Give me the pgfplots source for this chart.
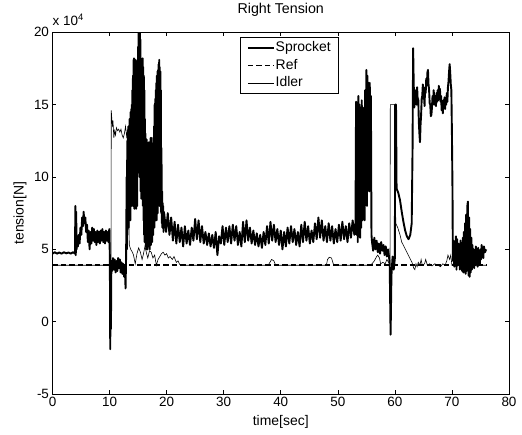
\documentclass[border=0pt]{standalone}
\usepackage{pgfplots}
\pgfplotsset{compat=1.18}
\usepackage{fontspec}
\setmainfont{Liberation Sans}
\begin{document}
\begin{tikzpicture}
\useasboundingbox (-52.5bp,-40.3bp) rectangle (469.5bp,394bp);
\begin{axis}[
  scale only axis, width=456.5bp, height=361.7bp,
  xmin=0, xmax=80, ymin=-5, ymax=20,
  xtick={0,10,...,80}, ytick={-5,0,...,20},
  tick align=inside, major tick length=4bp,
  axis line style={line width=0.6bp},
  every tick/.style={black,line width=0.6bp},
  /pgf/number format/assume math mode=true,
  ticklabel style={font=\fontsize{13.5}{15}\selectfont},
  xlabel={time[sec]}, ylabel={tension[N]},
  label style={font=\fontsize{14}{16}\selectfont},
  xlabel style={at={(axis description cs:0.5,-0.0774)}, anchor=center},
  ylabel style={at={(axis description cs:-0.0712,0.5)}, anchor=center, rotate=0},
  title={Right Tension},
  title style={font=\fontsize{14.3}{16}\selectfont, at={(axis description cs:0.5,1.047)}, anchor=center},
  legend style={at={(axis description cs:0.411,0.986)}, anchor=north west,
    draw=black, fill=white, inner xsep=6.5bp, inner ysep=3bp,
    font=\fontsize{14}{16}\selectfont,
    nodes={inner sep=1bp, text height=10bp, text depth=3bp},
    row sep=2.5bp,
    /tikz/every even column/.append style={column sep=2bp}},
  legend cell align=left,
  legend image code/.code={\draw[#1] (0bp,0bp) -- (26bp,0bp);},
  clip mode=individual,
]
\addplot[black, line width=1.9bp, line join=round] table {
t v
0.0 4.70
0.4 4.80
0.8 4.70
1.2 4.78
1.6 4.70
2.0 4.80
2.4 4.72
2.8 4.78
3.2 4.70
3.6 4.80
3.95 4.70
4.00 8.00
4.08 4.60
4.15 7.60
4.22 5.00
4.30 5.60
4.45 5.20
4.60 6.00
4.75 5.40
4.90 6.50
5.05 6.00
5.20 7.20
5.35 6.60
5.45 7.60
5.60 6.80
5.75 7.20
5.90 6.20
6.05 6.70
6.20 5.50
6.35 6.30
6.50 5.00
6.65 6.20
6.80 5.40
6.95 6.50
7.10 5.60
7.25 6.40
7.40 5.50
7.55 6.20
7.70 5.30
7.85 6.30
8.00 5.50
8.15 6.20
8.30 5.40
8.45 6.30
8.60 5.60
8.75 6.40
8.90 5.50
9.05 6.20
9.20 5.40
9.35 6.30
9.50 5.60
9.65 6.20
9.80 5.50
9.95 6.40
10.05 4.50
10.12 -1.90
10.18 3.60
10.24 -0.50
10.32 4.20
10.45 3.50
10.60 4.40
10.75 3.60
10.90 4.30
11.05 3.40
11.20 4.20
11.35 3.50
11.50 4.40
11.65 3.70
11.80 4.30
11.95 3.40
12.10 4.10
12.25 3.30
12.40 4.00
12.55 3.10
12.70 3.90
12.80 2.30
12.90 4.50
13.00 10.0
13.05 5.0
13.10 12.5
13.15 6.0
13.20 13.2
13.25 7.0
13.30 13.5
13.35 6.5
13.40 13.4
13.45 7.5
13.50 14.0
13.55 8.0
13.60 13.8
13.65 7.0
13.70 14.5
13.75 8.5
13.80 14.7
13.85 9.0
13.90 15.0
13.95 8.0
14.00 16.0
14.05 9.0
14.10 17.0
14.15 8.0
14.20 18.1
14.25 8.5
14.30 18.2
14.35 7.8
14.40 18.0
14.45 10.0
14.50 18.1
14.55 9.0
14.60 17.8
14.65 7.8
14.70 18.0
14.75 10.5
14.80 17.5
14.85 8.0
14.90 18.1
14.95 11.0
15.00 19.0
15.05 12.0
15.10 20.0
15.15 11.0
15.20 19.8
15.25 10.0
15.30 20.0
15.35 12.5
15.40 19.5
15.45 9.0
15.50 18.2
15.55 8.5
15.60 18.0
15.65 10.0
15.70 17.8
15.75 9.0
15.80 18.2
15.85 8.0
15.90 17.6
15.95 7.0
16.00 17.0
16.05 6.0
16.10 16.0
16.15 5.5
16.20 14.0
16.25 6.0
16.30 13.0
16.35 5.2
16.40 12.0
16.45 5.0
16.50 12.6
16.55 5.5
16.60 12.0
16.65 5.0
16.70 11.0
16.75 5.6
16.80 11.8
16.85 5.2
16.90 12.4
16.95 6.0
17.00 11.5
17.05 5.0
17.10 12.2
17.15 5.8
17.20 12.7
17.25 5.3
17.30 12.6
17.35 6.2
17.40 12.7
17.45 5.5
17.50 11.0
17.55 6.5
17.60 10.5
17.65 6.0
17.70 12.0
17.75 7.0
17.80 13.5
17.85 6.5
17.90 15.0
17.95 7.5
18.00 15.4
18.05 7.0
18.10 16.0
18.15 8.0
18.20 16.5
18.25 7.0
18.30 17.0
18.35 8.5
18.40 17.3
18.45 7.5
18.50 17.4
18.55 8.0
18.60 17.8
18.65 9.0
18.70 18.1
18.75 8.0
18.80 17.6
18.85 9.5
18.90 17.3
18.95 8.0
19.00 16.0
19.05 7.5
19.10 12.0
19.15 6.8
19.20 9.0
19.25 6.5
19.30 8.2
19.35 6.8
19.40 8.0
19.45 6.2
19.50 7.6
19.6 7.4
19.9 6.2
20.2 7.5
20.5 6.0
20.8 7.2
21.1 5.6
21.4 6.9
21.7 5.4
22.0 6.7
22.3 5.5
22.6 6.5
22.9 5.2
23.2 6.6
23.5 5.4
23.8 6.3
24.1 5.3
24.4 6.5
24.7 5.6
25.0 7.1
25.3 5.7
25.6 7.0
25.9 5.5
26.2 6.6
26.5 5.4
26.8 6.2
27.1 5.3
27.4 6.1
27.7 5.2
28.0 6.0
28.3 5.1
28.6 6.2
28.9 4.6
29.2 5.9
29.5 5.4
29.8 6.6
30.1 5.3
30.4 6.5
30.7 5.5
31.0 6.6
31.3 5.4
31.6 6.7
31.9 5.6
32.2 6.6
32.5 5.3
32.8 6.2
33.1 5.2
33.4 6.9
33.7 5.5
34.0 7.0
34.3 5.6
34.6 6.5
34.9 5.4
35.2 6.3
35.5 5.3
35.8 6.1
36.1 5.2
36.4 6.0
36.7 5.1
37.0 6.2
37.3 5.3
37.6 6.6
37.9 5.4
38.2 6.9
38.5 5.6
38.8 6.7
39.1 5.5
39.4 6.4
39.7 5.3
40.0 6.3
40.3 5.0
40.6 6.2
40.9 5.2
41.2 6.5
41.5 5.4
41.8 6.6
42.1 5.5
42.4 6.4
42.7 5.3
43.0 6.2
43.3 5.2
43.6 6.7
43.9 5.5
44.2 6.9
44.5 5.6
44.8 6.6
45.1 5.4
45.4 6.3
45.7 5.5
46.0 6.8
46.3 5.7
46.6 7.2
46.9 5.8
47.2 7.0
47.5 5.6
47.8 6.6
48.1 5.5
48.4 6.8
48.7 5.6
49.0 6.6
49.3 5.4
49.6 6.4
49.9 5.5
50.2 6.7
50.5 5.6
50.8 6.9
51.1 5.7
51.4 6.6
51.7 5.5
52.0 6.8
52.3 5.8
52.6 7.0
52.9 6.0
53.10 6.8
53.20 15.2
53.30 6.0
53.40 14.5
53.50 5.5
53.60 15.6
53.70 6.0
53.80 15.0
53.90 5.8
54.00 14.8
54.10 6.5
54.20 15.3
54.30 7.0
54.40 14.8
54.50 8.0
54.60 14.0
54.70 7.0
54.80 16.0
54.90 9.0
55.00 17.4
55.10 8.0
55.20 17.0
55.30 10.0
55.40 16.5
55.50 9.0
55.60 16.5
55.70 12.0
55.80 15.6
55.90 6.0
56.0 5.5
56.2 4.9
56.4 5.8
56.6 5.0
56.8 5.6
57.0 4.8
57.2 5.4
57.4 4.7
57.6 5.5
57.8 4.9
58.0 5.3
58.2 4.6
58.4 5.2
58.6 4.5
58.8 5.0
59.0 4.4
59.10 3.8
59.25 -0.9
59.40 3.2
59.60 4.5
59.80 3.6
60.00 4.4
60.05 15.0
60.20 15.0
60.30 9.2
60.60 8.9
60.90 8.4
61.20 7.6
61.50 6.9
61.80 6.3
62.10 5.9
62.40 5.7
62.70 6.0
62.95 6.8
63.10 12.0
63.20 18.9
63.30 16.5
63.40 14.8
63.50 15.9
63.60 15.2
63.70 16.0
63.80 15.0
63.90 16.2
64.00 15.3
64.10 15.4
64.20 13.8
64.30 13.0
64.40 12.4
64.50 13.6
64.60 14.3
64.70 15.4
64.80 15.6
64.90 16.4
65.00 15.4
65.10 15.8
65.20 14.9
65.30 16.2
65.40 15.8
65.50 16.8
65.60 16.3
65.70 17.2
65.80 17.4
65.90 16.4
66.00 16.0
66.10 15.1
66.20 15.0
66.30 14.2
66.40 14.3
66.50 14.8
66.60 15.6
66.70 15.0
66.80 16.0
66.90 15.4
67.00 15.0
67.10 15.6
67.20 14.9
67.30 15.8
67.40 15.2
67.50 16.0
67.60 15.3
67.70 16.3
67.80 15.5
67.90 16.1
68.00 15.2
68.10 15.6
68.20 14.6
68.30 15.1
68.40 14.4
68.50 15.3
68.60 14.8
68.70 15.5
68.80 14.7
68.90 15.4
69.00 15.0
69.10 15.8
69.20 15.2
69.30 16.2
69.40 16.6
69.50 17.3
69.60 17.8
69.70 17.2
69.80 16.4
69.90 16.0
70.00 13.0
70.10 9.0
70.15 5.2
70.2 4.2
70.3 5.6
70.4 3.8
70.5 5.2
70.6 4.0
70.7 5.9
70.8 3.6
70.9 5.7
71.0 4.3
71.1 5.4
71.2 3.9
71.3 5.1
71.4 3.6
71.5 5.6
71.6 4.2
71.7 5.0
71.8 3.5
71.9 5.8
72.0 3.4
72.1 6.2
72.2 3.6
72.3 6.8
72.4 3.3
72.5 7.4
72.6 3.5
72.7 8.0
72.8 8.3
72.9 3.2
73.0 7.2
73.1 3.1
73.2 6.4
73.3 3.4
73.4 5.8
73.5 3.6
73.6 5.3
73.7 3.8
73.8 5.0
73.9 3.7
74.0 4.8
74.1 3.9
74.2 5.2
74.3 4.1
74.4 4.9
74.5 3.8
74.6 5.1
74.7 4.2
74.8 4.8
74.9 4.0
75.0 5.0
75.1 4.3
75.2 5.3
75.3 4.5
75.4 4.9
75.5 4.4
75.6 5.2
75.8 4.8
76.0 5.0
};
\addlegendentry{Sprocket}
\addplot[black, line width=1.6bp, dash pattern=on 5.5bp off 3bp] coordinates {(0,3.9) (76.2,3.9)};
\addlegendentry{Ref}
\addplot[black, line width=0.6bp] table {
t v
0 3.9
10.1 3.9
10.25 4.2
10.3 14.6
10.4 14.0
10.5 13.6
10.6 13.9
10.75 12.7
10.9 13.2
11.05 12.9
11.2 13.4
11.4 13.2
11.6 13.3
11.8 13.1
12.0 13.3
12.2 12.9
12.4 12.7
12.6 13.0
12.8 13.5
13.0 12.8
13.2 13.3
13.35 9.0
13.45 5.3
13.7 5.0
14.0 4.8
14.2 4.6
14.5 4.0
14.8 4.7
15.1 5.1
15.4 4.8
15.7 4.3
15.9 4.6
16.2 5.2
16.5 4.7
16.7 4.4
17.0 4.9
17.3 4.8
17.6 4.4
17.9 4.6
18.2 3.9
18.5 4.3
18.8 4.5
19.1 4.7
19.4 4.8
19.7 4.6
20.0 4.7
20.3 4.4
20.6 4.5
21.0 4.3
21.3 4.5
21.7 4.1
22.0 4.2
22.3 3.95
22.6 3.9
37.8 3.9
38.1 4.1
38.4 4.3
38.8 4.2
39.1 3.9
48.0 3.9
48.2 4.3
48.5 4.45
48.9 4.4
49.2 4.0
49.4 3.9
55.6 3.9
56.0 4.0
56.4 4.2
56.8 4.5
57.0 4.6
57.3 4.4
57.5 4.0
57.9 4.1
58.3 4.0
58.6 4.3
58.9 4.1
59.15 4.0
59.2 15.0
60.05 15.0
60.15 6.8
60.5 6.5
60.9 6.0
61.2 5.5
61.6 5.2
62.1 4.8
62.6 4.4
63.0 4.1
63.3 3.7
63.5 3.6
63.7 4.0
63.9 3.8
64.1 4.1
64.4 3.9
64.6 4.3
64.8 3.9
65.2 4.0
65.4 4.3
65.7 3.9
66.1 4.0
66.5 3.85
67.0 4.0
67.5 3.9
68.0 3.8
68.4 4.0
68.8 3.9
69.1 4.2
69.3 4.6
69.6 4.3
69.8 4.6
70.0 3.9
76.0 3.9
};
\addlegendentry{Idler}
\node[anchor=base west, inner sep=0pt, font=\fontsize{13.5}{15}\selectfont] at (rel axis cs:0,1) [yshift=7bp] {x 10\textsuperscript{4}};
\end{axis}
\end{tikzpicture}
\end{document}
